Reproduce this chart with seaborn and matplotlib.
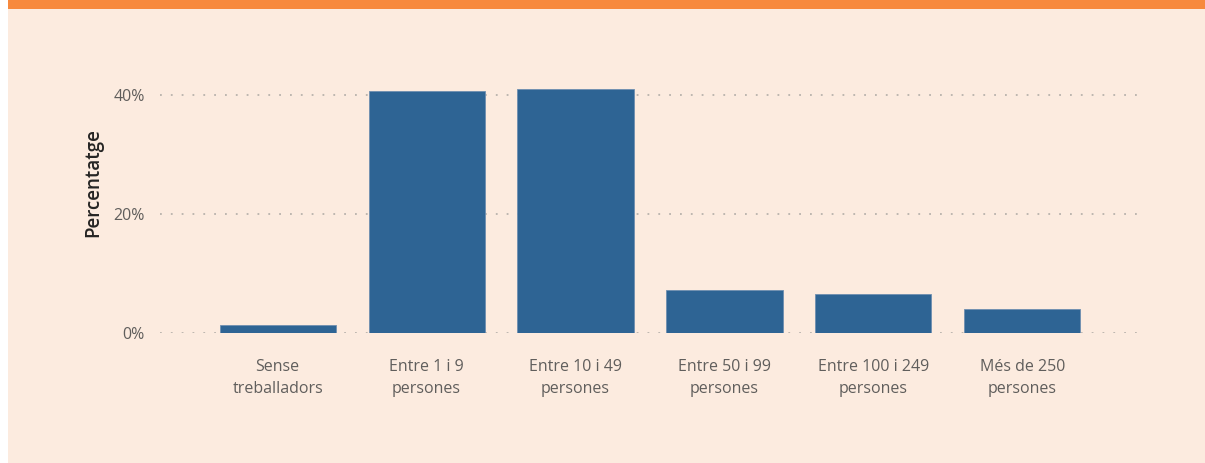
import pandas as pd
import seaborn as sns
import matplotlib.pyplot as plt
from matplotlib.patches import Rectangle
from matplotlib.ticker import FuncFormatter

# data
categories = ['Sense\ntreballadors', 'Entre 1 i 9\npersones', 'Entre 10 i 49\npersones',
              'Entre 50 i 99\npersones', 'Entre 100 i 249\npersones', 'Més de 250\npersones']
percentages = [1.4, 40.6, 41.0, 7.2, 6.6, 4.0]
yticks = [0, 20, 40]

df = pd.DataFrame({'categoria': categories, 'percentatge': percentages})

bg = '#FCEBDF'
sns.set_theme(style='white')
plt.rcParams['font.family'] = ['Open Sans', 'DejaVu Sans']

fig = plt.figure(figsize=(12.05, 4.63), dpi=100)
fig.patch.set_facecolor('white')

# panel background + orange header band
fig.patches.append(Rectangle((8 / 1205, 0), 1 - 8 / 1205, 1, transform=fig.transFigure,
                             facecolor=bg, edgecolor='none', zorder=-2))
fig.patches.append(Rectangle((8 / 1205, 1 - 9 / 463), 1 - 8 / 1205, 9 / 463, transform=fig.transFigure,
                             facecolor='#F7893D', edgecolor='none', zorder=-1))

ax = fig.add_axes([160 / 1205, 1 - 333 / 463, (1140 - 160) / 1205, (333 - 65) / 463])
ax.set_facecolor('none')

sns.barplot(data=df, x='categoria', y='percentatge', ax=ax, color='#2E6494',
            width=0.78, edgecolor='#6E8FB0', linewidth=0.6, saturation=1)

ax.set_xlim(-0.79, 5.79)
ax.set_ylim(0, 45)
ax.set_yticks(yticks)
ax.yaxis.set_major_formatter(FuncFormatter(lambda v, p: f'{v:.0f}%'))
for t in yticks:
    ax.axhline(t, color='#B8B2AC', linestyle=(0, (1, 5)), linewidth=1.3, zorder=0)
sns.despine(ax=ax, left=True, bottom=True)
ax.tick_params(axis='both', length=0, labelsize=11.5, labelcolor='#605E5C')
ax.tick_params(axis='y', pad=11)
ax.tick_params(axis='x', pad=18.5)
for lbl in ax.get_xticklabels():
    lbl.set_linespacing(1.55)

ax.set_xlabel('')
ax.set_ylabel('Percentatge', fontsize=13.5, fontweight='semibold', color='#252423')
ax.yaxis.set_label_coords(-0.058, 0.56)

plt.savefig('out.png', dpi=100, facecolor=fig.get_facecolor())
